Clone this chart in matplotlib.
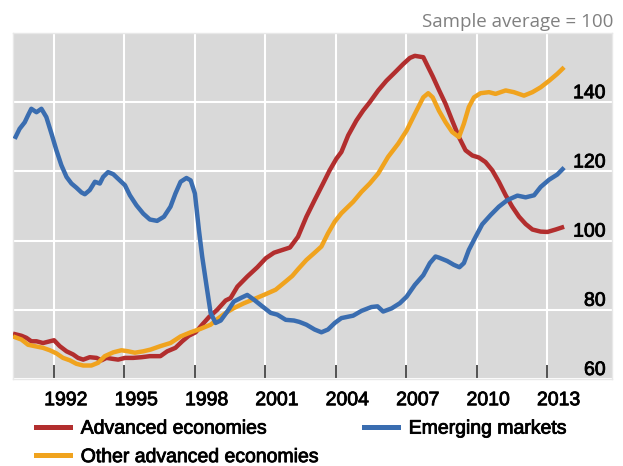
import matplotlib
matplotlib.use("Agg")
import matplotlib.pyplot as plt
import matplotlib.patheffects as pe
from matplotlib.lines import Line2D

# ---- data (year fraction, index) ----
adv_year = [1990.25, 1990.61, 1990.82, 1991.03, 1991.25, 1991.53, 1991.82, 1992.00, 1992.24, 1992.53,
            1992.81, 1993.02, 1993.24, 1993.52, 1993.81, 1994.02, 1994.23, 1994.52, 1994.73, 1995.02,
            1995.37, 1995.73, 1996.08, 1996.53, 1996.82, 1997.17, 1997.46, 1997.74, 1998.03, 1998.31,
            1998.60, 1998.95, 1999.31, 1999.52, 1999.81, 2000.23, 2000.66, 2001.02, 2001.37, 2001.73,
            2002.05, 2002.39, 2002.75, 2003.10, 2003.46, 2003.74, 2004.03, 2004.24, 2004.53, 2004.88,
            2005.17, 2005.45, 2005.81, 2006.16, 2006.52, 2006.87, 2007.16, 2007.37, 2007.73, 2007.94,
            2008.13, 2008.40, 2008.68, 2008.96, 2009.25, 2009.53, 2009.82, 2010.10, 2010.38, 2010.67,
            2010.95, 2011.24, 2011.52, 2011.81, 2012.09, 2012.38, 2012.73, 2013.02, 2013.37, 2013.73]
adv_val = [73.1, 72.5, 71.9, 70.9, 70.9, 70.4, 70.9, 71.2, 69.5, 68.0,
           67.1, 66.1, 65.6, 66.3, 66.1, 65.4, 66.1, 65.8, 65.6, 66.1,
           66.1, 66.3, 66.6, 66.6, 68.0, 69.0, 70.9, 72.5, 73.5, 75.7,
           77.9, 80.0, 82.7, 83.4, 86.7, 89.6, 92.3, 94.9, 96.5, 97.3,
           98.0, 101.1, 106.9, 111.7, 116.5, 120.3, 123.7, 125.6, 130.4, 134.7,
           137.6, 140.0, 143.4, 146.2, 148.6, 151.0, 152.8, 153.4, 153.0, 150.1,
           147.5, 143.5, 139.5, 134.7, 129.9, 126.1, 124.6, 124.0, 122.7, 120.3,
           117.0, 113.1, 109.8, 106.9, 104.8, 103.2, 102.6, 102.5, 103.2, 104.0]

oth_year = [1990.25, 1990.61, 1990.89, 1991.17, 1991.53, 1991.82, 1992.10, 1992.38, 1992.67, 1992.95,
            1993.24, 1993.59, 1993.88, 1994.16, 1994.52, 1994.87, 1995.16, 1995.44, 1995.80, 1996.11,
            1996.53, 1996.96, 1997.39, 1997.82, 1998.24, 1998.67, 1998.95, 1999.31, 1999.66, 2000.09,
            2000.52, 2000.94, 2001.44, 2001.87, 2002.15, 2002.39, 2002.75, 2003.10, 2003.39, 2003.67,
            2003.96, 2004.24, 2004.74, 2005.10, 2005.45, 2005.81, 2006.23, 2006.66, 2007.02, 2007.37,
            2007.73, 2007.94, 2008.13, 2008.40, 2008.68, 2008.96, 2009.25, 2009.46, 2009.67, 2009.89,
            2010.17, 2010.53, 2010.81, 2011.24, 2011.59, 2012.02, 2012.38, 2012.73, 2013.09, 2013.44,
            2013.73]
oth_val = [72.3, 71.4, 69.9, 69.5, 69.0, 68.3, 67.4, 66.1, 65.4, 64.4,
           63.9, 63.9, 64.7, 66.6, 67.7, 68.3, 68.0, 67.6, 68.0, 68.5,
           69.5, 70.4, 72.3, 73.5, 74.5, 75.7, 77.3, 79.1, 80.5, 81.9,
           83.1, 84.3, 85.8, 88.2, 89.8, 91.7, 94.4, 96.5, 98.3, 102.1,
           105.5, 107.9, 111.2, 114.1, 116.5, 119.4, 124.2, 128.0, 131.8, 136.6,
           141.4, 142.6, 141.4, 137.5, 134.2, 131.4, 129.9, 133.8, 138.6, 141.4,
           142.6, 142.9, 142.4, 143.4, 142.9, 141.9, 142.9, 144.3, 146.2, 148.2,
           150.1]

em_year = [1990.32, 1990.53, 1990.75, 1990.89, 1991.03, 1991.25, 1991.46, 1991.67, 1991.89, 1992.10,
           1992.31, 1992.53, 1992.74, 1992.95, 1993.17, 1993.31, 1993.52, 1993.74, 1993.95, 1994.09,
           1994.30, 1994.52, 1994.80, 1995.02, 1995.23, 1995.51, 1995.80, 1996.08, 1996.39, 1996.68,
           1996.96, 1997.17, 1997.39, 1997.64, 1997.82, 1998.00, 1998.17, 1998.31, 1998.50, 1998.67,
           1998.88, 1999.10, 1999.38, 1999.66, 1999.95, 2000.23, 2000.52, 2000.87, 2001.23, 2001.51,
           2001.87, 2002.22, 2002.45, 2002.75, 2003.10, 2003.39, 2003.67, 2003.96, 2004.24, 2004.74,
           2005.10, 2005.52, 2005.78, 2006.02, 2006.38, 2006.73, 2007.02, 2007.37, 2007.73, 2008.01,
           2008.25, 2008.39, 2008.75, 2009.03, 2009.27, 2009.46, 2009.67, 2009.96, 2010.24, 2010.60,
           2010.95, 2011.31, 2011.74, 2012.09, 2012.45, 2012.73, 2013.09, 2013.44, 2013.73]
em_val = [129.4, 132.3, 134.2, 136.2, 138.1, 137.1, 138.1, 135.7, 130.9, 126.1,
          121.8, 118.4, 116.5, 115.3, 113.9, 113.4, 114.6, 117.0, 116.5, 118.4,
          119.8, 119.2, 117.4, 116.0, 113.1, 110.2, 107.8, 106.1, 105.7, 106.9,
          109.8, 113.6, 117.0, 118.1, 117.4, 113.6, 103.1, 95.4, 86.7, 79.1,
          76.2, 76.9, 79.5, 82.4, 83.4, 84.3, 82.9, 81.0, 79.1, 78.6,
          77.1, 76.9, 76.5, 75.7, 74.3, 73.5, 74.3, 76.2, 77.6, 78.3,
          79.7, 80.8, 81.0, 79.5, 80.4, 81.9, 83.8, 87.2, 90.0, 93.5,
          95.4, 95.1, 94.1, 93.0, 92.3, 93.5, 97.3, 101.1, 104.7, 107.4,
          109.8, 111.7, 113.0, 112.5, 113.1, 115.5, 117.6, 119.1, 121.1]

year_ticks = [1992, 1995, 1998, 2001, 2004, 2007, 2010, 2013]
y_ticks = [60, 80, 100, 120, 140]

RED, ORANGE, BLUE = "#B22E2E", "#F0A31E", "#3A6DB0"

plt.rcParams["font.family"] = ["Liberation Sans", "DejaVu Sans"]
heavy = [pe.withStroke(linewidth=0.6, foreground="black")]   # reference text renders heavier

fig = plt.figure(figsize=(6.23, 4.66), dpi=100)
ax = fig.add_axes([13 / 623, 1 - 379 / 466, 599 / 623, 346 / 466])
ax.set_facecolor("#D9D9D9")

ax.plot(adv_year, adv_val, color=RED, lw=3.2, solid_capstyle="butt", zorder=3)
ax.plot(oth_year, oth_val, color=ORANGE, lw=3.2, solid_capstyle="butt", zorder=3)
ax.plot(em_year, em_val, color=BLUE, lw=3.2, solid_capstyle="butt", zorder=4)

ax.set_xlim(1990.25, 2015.77)
ax.set_ylim(60, 160)

# x: ticks on year starts, labels centred on the year
ax.set_xticks(year_ticks)
ax.set_xticks([y + 0.5 for y in year_ticks], minor=True)
ax.set_xticklabels([str(y) for y in year_ticks], minor=True, fontsize=14)
ax.tick_params(axis="x", which="major", direction="in", length=10, width=1.1,
               color="#222222", labelbottom=False)
ax.tick_params(axis="x", which="minor", length=0, pad=9.5)

# y: labels inside on the right, sitting on the gridline
ax.set_yticks(y_ticks)
ax.yaxis.tick_right()
ax.tick_params(axis="y", length=0, pad=-4.5, labelsize=14)
for lab in ax.get_yticklabels():
    lab.set_ha("right")
    lab.set_va("bottom")
for lab in ax.get_yticklabels() + ax.get_xticklabels(minor=True):
    lab.set_path_effects(heavy)

ax.grid(True, which="major", color="white", lw=1.5, zorder=1)
ax.set_axisbelow(True)
for s in ax.spines.values():
    s.set_color("#E8E8E8")
    s.set_linewidth(1)

fig.text(613 / 623, 1 - 27 / 466, "Sample average = 100", ha="right", va="baseline",
         fontsize=13.5, color="#808080", family="Open Sans")

handles = [Line2D([], [], color=RED, lw=3.6),
           Line2D([], [], color=ORANGE, lw=3.6),
           Line2D([], [], color=BLUE, lw=3.6)]
labels = ["Advanced economies", "Other advanced economies", "Emerging markets"]
leg = fig.legend(handles, labels, loc="upper left", bbox_to_anchor=(36 / 623, 1 - 420 / 466),
                 ncol=2, frameon=False, fontsize=14, handlelength=1.75, handletextpad=0.55,
                 columnspacing=2.25, labelspacing=0.56, borderpad=0, borderaxespad=0)
for t in leg.get_texts():
    t.set_path_effects(heavy)

fig.savefig("out.png", dpi=100)
